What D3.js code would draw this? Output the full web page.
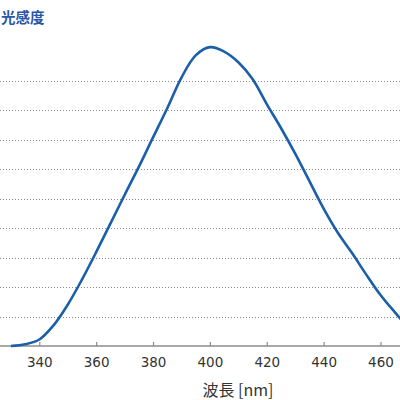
<!DOCTYPE html>
<html>
<head>
<meta charset="utf-8">
<script src="https://cdn.jsdelivr.net/npm/d3@7.9.0/dist/d3.min.js"></script>
<style>
  html, body { margin: 0; padding: 0; background: #fff; }
  svg { display: block; }
</style>
</head>
<body>
<div id="chart"></div>
<script>
// wavelength [nm] and relative sensitivity
const wavelengths = [330, 335, 340, 345, 350, 355, 360, 365, 370, 375, 380, 385, 390, 395, 400,
  405, 410, 415, 420, 425, 430, 435, 440, 445, 450, 455, 460, 465, 470];
const sensitivity = [0.0, 0.006, 0.022, 0.07, 0.14, 0.225, 0.318, 0.415, 0.512, 0.607, 0.707, 0.806, 0.91, 0.985, 1.013,
  0.998, 0.962, 0.905, 0.82, 0.739, 0.652, 0.559, 0.466, 0.384, 0.315, 0.242, 0.173, 0.115, 0.06];
const xTicks = [340, 360, 380, 400, 420, 440, 460];
const gridValues = [0.1, 0.2, 0.3, 0.4, 0.5, 0.6, 0.7, 0.8, 0.9];

const width = 400;
const height = 400;

const svg = d3.select('#chart')
  .append('svg')
  .attr('width', width)
  .attr('height', height);

const x = d3.scaleLinear().domain([340, 460]).range([39.3, 380.5]);
const y = d3.scaleLinear().domain([0, 1]).range([346, 51]);

// dotted gridlines
svg.append('g')
  .selectAll('line')
  .data(gridValues)
  .join('line')
  .attr('x1', 0)
  .attr('x2', width)
  .attr('y1', (d) => Math.round(y(d)) + 0.5)
  .attr('y2', (d) => Math.round(y(d)) + 0.5)
  .attr('stroke', '#8a8a8a')
  .attr('stroke-width', 1)
  .attr('stroke-dasharray', '1,2');

// x axis, ticks pointing up
const xAxis = svg.append('g')
  .attr('transform', `translate(0, ${y(0)})`)
  .call(d3.axisBottom(x).tickValues(xTicks).tickSize(-4).tickPadding(11).tickSizeOuter(0));

xAxis.select('.domain').remove();
xAxis.insert('line', ':first-child')
  .attr('x1', 0)
  .attr('x2', width)
  .attr('stroke', '#8c8c8c')
  .attr('stroke-width', 1.5);
xAxis.selectAll('.tick line').attr('stroke', '#8c8c8c').attr('stroke-width', 1.2);
xAxis.selectAll('.tick text')
  .attr('fill', '#333')
  .attr('font-family', 'DejaVu Sans, sans-serif')
  .attr('font-size', 13.5);

// curve
const line = d3.line()
  .x((d, i) => x(wavelengths[i]))
  .y((d) => y(d))
  .curve(d3.curveCatmullRom.alpha(0.5));

svg.append('path')
  .datum(sensitivity)
  .attr('fill', 'none')
  .attr('stroke', '#1a5fa8')
  .attr('stroke-width', 2.6)
  .attr('d', line);

// titles
svg.append('text')
  .attr('x', 1)
  .attr('y', 23)
  .attr('fill', '#2b56a6')
  .attr('font-family', 'Noto Sans CJK JP, sans-serif')
  .attr('font-weight', 'bold')
  .attr('font-size', 14.5)
  .text('光感度');

svg.append('text')
  .attr('x', 238)
  .attr('y', 396)
  .attr('text-anchor', 'middle')
  .attr('fill', '#333')
  .attr('font-family', 'Noto Sans CJK JP, sans-serif')
  .attr('font-size', 16)
  .text('波長 [nm]');
</script>
</body>
</html>
